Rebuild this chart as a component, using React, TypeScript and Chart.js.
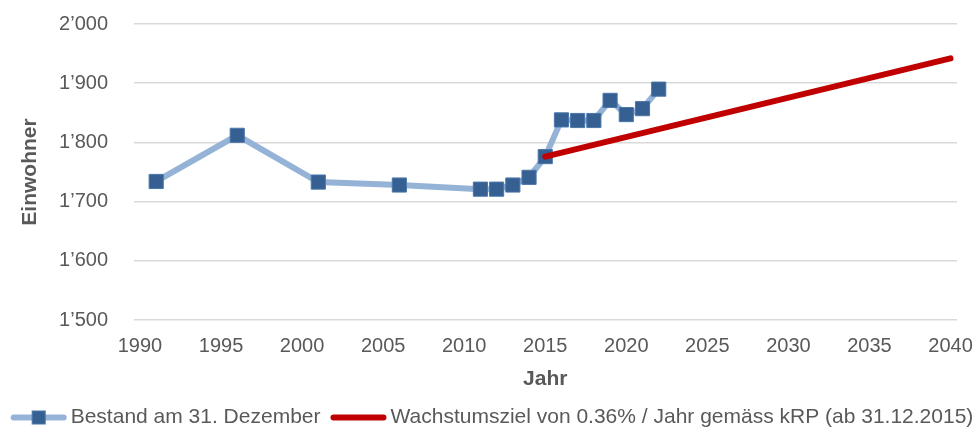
import React, { useEffect, useRef } from 'react';
import { Chart, registerables } from 'chart.js';

Chart.register(...registerables);

// ---- Data ----
const bestandYears = [1991, 1996, 2001, 2006, 2011, 2012, 2013, 2014, 2015, 2016, 2017, 2018, 2019, 2020, 2021, 2022];
const bestandValues = [1734, 1812, 1733, 1728, 1721, 1721, 1728, 1741, 1776, 1838, 1837, 1837, 1871, 1847, 1857, 1890];
const zielYears = [2015, 2040];
const zielValues = [1776, 1942];
const seriesLabels = ['Bestand am 31. Dezember', 'Wachstumsziel von 0.36% / Jahr gemäss kRP (ab 31.12.2015)'];
const xTickValues = [1990, 1995, 2000, 2005, 2010, 2015, 2020, 2025, 2030, 2035, 2040];
const yTickValues = [1500, 1600, 1700, 1800, 1900, 2000];
const xTitle = 'Jahr';
const yTitle = 'Einwohner';

const FONT = '"Liberation Sans", Arial, Helvetica, sans-serif';
const TEXT = '#595959';

const fmtThousands = (v: number) =>
  v >= 1000 ? Math.floor(v / 1000) + '\u2019' + String(v % 1000).padStart(3, '0') : String(v);

const legendPlugin = {
  id: 'excelLegend',
  afterDraw(chart: any) {
    const ctx = chart.ctx as CanvasRenderingContext2D;
    const datasets = chart.data.datasets;
    ctx.save();
    ctx.font = `21px ${FONT}`;
    ctx.textBaseline = 'middle';
    ctx.textAlign = 'left';
    const lineW = 56;
    const gapText = 4;
    const gapItems = 10;
    const widths = datasets.map((ds: any) => ctx.measureText(ds.label).width);
    let total = 0;
    widths.forEach((w: number, i: number) => {
      total += lineW + gapText + w + (i > 0 ? gapItems : 0);
    });
    let x = 492 - total / 2;
    const y = 417.5;
    datasets.forEach((ds: any, i: number) => {
      if (i > 0) x += gapItems;
      ctx.beginPath();
      ctx.lineCap = 'round';
      ctx.strokeStyle = ds.borderColor;
      ctx.lineWidth = ds.borderWidth;
      ctx.moveTo(x + 3, y);
      ctx.lineTo(x + lineW - 3, y);
      ctx.stroke();
      if (ds.pointRadius > 0) {
        const s = 13;
        ctx.fillStyle = ds.pointBackgroundColor;
        ctx.fillRect(x + lineW / 2 - s / 2, y - s / 2, s, s);
        ctx.lineWidth = 1;
        ctx.strokeStyle = ds.pointBorderColor;
        ctx.strokeRect(x + lineW / 2 - s / 2, y - s / 2, s, s);
      }
      x += lineW + gapText;
      ctx.fillStyle = TEXT;
      ctx.fillText(ds.label, x, y);
      x += widths[i];
    });
    ctx.restore();
  },
};

export default function App() {
  const canvasRef = useRef<HTMLCanvasElement | null>(null);

  useEffect(() => {
    if (!canvasRef.current) return;
    Chart.defaults.font.family = FONT;
    const chart = new Chart(canvasRef.current, {
      type: 'line',
      data: {
        datasets: [
          {
            label: seriesLabels[0],
            data: bestandYears.map((yr, i) => ({ x: yr, y: bestandValues[i] })),
            borderColor: '#95b3d7',
            borderWidth: 6,
            pointStyle: 'rect',
            pointRadius: 10,
            pointHoverRadius: 10,
            pointBackgroundColor: '#366092',
            pointBorderColor: '#4a76aa',
            pointBorderWidth: 1,
            order: 1,
            tension: 0,
          } as any,
          {
            label: seriesLabels[1],
            data: zielYears.map((yr, i) => ({ x: yr, y: zielValues[i] })),
            borderColor: '#c00000',
            borderWidth: 6,
            borderCapStyle: 'round',
            pointRadius: 0,
            pointHoverRadius: 0,
            order: 0,
            tension: 0,
          } as any,
        ],
      },
      options: {
        animation: false,
        responsive: false,
        devicePixelRatio: 1,
        layout: { padding: { top: 24, right: 23, left: 0, bottom: 35 } },
        plugins: {
          legend: { display: false },
          tooltip: { enabled: false },
        },
        scales: {
          x: {
            type: 'linear',
            min: 1989.6,
            max: 2040.4,
            afterBuildTicks: (scale: any) => {
              scale.ticks = xTickValues.map((v) => ({ value: v }));
            },
            afterFit: (scale: any) => {
              scale.height = 72;
              scale.paddingLeft = 0;
              scale.paddingRight = 0;
            },
            grid: { display: false, drawTicks: false },
            border: { display: false },
            ticks: {
              color: TEXT,
              font: { size: 20 },
              padding: 14,
              maxRotation: 0,
              autoSkip: false,
              callback: (v: any) => String(v),
            },
            title: {
              display: true,
              text: xTitle,
              color: TEXT,
              font: { size: 21, weight: 'bold' },
              padding: { top: 0, bottom: 0 },
            },
          },
          y: {
            type: 'linear',
            min: 1500,
            max: 2000,
            afterBuildTicks: (scale: any) => {
              scale.ticks = yTickValues.map((v) => ({ value: v }));
            },
            afterFit: (scale: any) => {
              scale.width = 133.5;
              scale.paddingTop = 0;
              scale.paddingBottom = 0;
            },
            grid: { color: '#d9d9d9', lineWidth: 1.5, drawTicks: false },
            border: { display: false },
            ticks: {
              color: TEXT,
              font: { size: 20 },
              padding: 25.5,
              callback: (v: any) => fmtThousands(Number(v)),
            },
            title: {
              display: true,
              text: yTitle,
              color: TEXT,
              font: { size: 21, weight: 'bold' },
              padding: { top: 18, bottom: 0 },
            },
          },
        },
      },
      plugins: [legendPlugin],
    } as any);
    return () => chart.destroy();
  }, []);

  return (
    <div style={{ position: 'fixed', left: 0, top: 0, width: 980, height: 427, background: '#fff' }}>
      <canvas ref={canvasRef} width={980} height={427} style={{ display: 'block' }} />
    </div>
  );
}
